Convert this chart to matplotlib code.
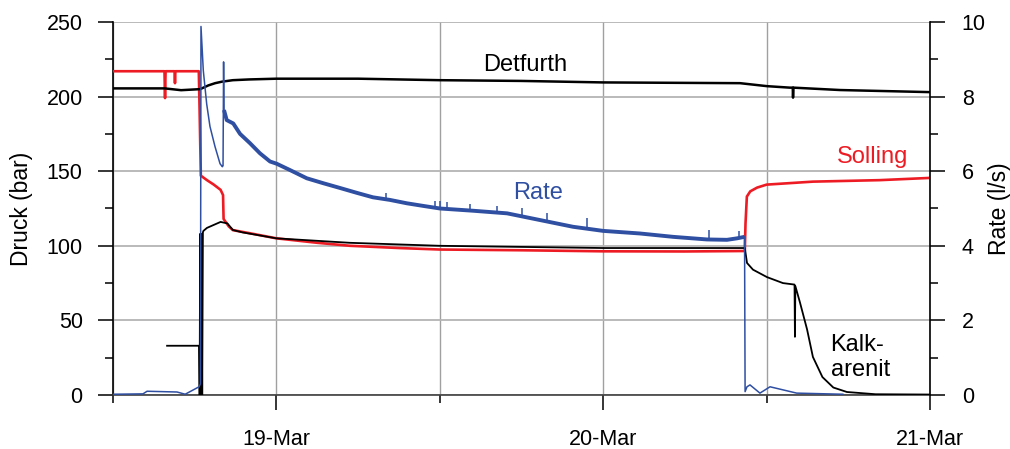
import numpy as np
import pandas as pd
import matplotlib
matplotlib.use("Agg")
import matplotlib.pyplot as plt
import matplotlib.dates as mdates
from matplotlib.ticker import MultipleLocator

plt.rcParams['font.family'] = ['Liberation Sans', 'DejaVu Sans']

# time in hours since 18-Mar 00:00
t0 = pd.Timestamp("2013-03-18 00:00")

# Solling (bar)
sol_t = [12.0, 15.78, 15.82, 15.86, 16.52, 16.55, 16.58, 18.30, 18.36, 18.45, 18.9, 19.4,
         19.9, 20.08, 20.12, 20.5, 20.8, 22.0, 24.0, 27.0, 29.4, 33.0, 36.0, 42.0, 48.0,
         54.0, 58.4, 58.45, 58.55, 58.8, 59.3, 60.0, 63.4, 68.3, 72.0]
sol_v = [217, 217, 199, 217, 217, 209, 217, 217, 190, 147, 144, 141,
         137.5, 134, 118, 113, 110.5, 108.5, 105, 102, 100, 98.5, 97.5, 97, 96.3,
         96.2, 96.5, 115, 133, 136.5, 139, 141, 143, 144, 145.5]

# Detfurth (bar)
det_t = [12.0, 15.8, 17.0, 18.4, 19.0, 19.5, 20.0, 20.8, 22.0, 24.0, 30.0, 36.0,
         42.0, 48.0, 54.0, 58.05, 60.03, 61.7, 61.92, 61.94, 61.97, 65.4, 72.0]
det_v = [205.5, 205.5, 204.3, 205, 207.5, 209, 210, 211, 211.5, 212, 212, 211,
         210.5, 209.5, 209.2, 209, 207, 206, 206, 199.3, 206, 204.4, 203]

# Kalkarenit (bar)
kal_t = [15.97, 18.32, 18.36, 18.40, 18.45, 18.50, 18.55, 18.60, 18.64, 18.9, 19.9,
         20.4, 20.8, 21.5, 24.0, 29.4, 36.0, 48.0, 58.4, 58.56, 59.0, 60.03, 61.2,
         62.05, 62.08, 62.11, 62.45, 62.97, 63.4, 64.1, 64.9, 65.9, 68.0, 72.0]
kal_v = [33, 33, 0, 108, 0, 108, 0, 109, 110, 112, 116,
         115, 110.6, 109, 105, 102, 100, 98.5, 98.5, 88.5, 84, 79, 75,
         74, 39, 73, 62, 44, 25.5, 12, 5, 2, 0.5, 0.3]

# Rate (l/s)
rate_t = [12.0, 14.2, 14.5, 16.7, 17.3, 18.32, 18.42, 18.46, 18.63, 18.88, 19.12, 19.49,
          19.86, 20.03, 20.08, 20.12, 20.15, 20.35, 20.83, 21.33, 22.06, 22.79, 23.53,
          24.02, 25.0, 26.23, 27.42, 28.67, 29.9, 31.09, 32.34, 33.57, 34.77, 36.01,
          38.44, 40.94, 43.36, 45.78, 47.99, 50.7, 53.13, 55.62, 57.09, 57.83, 58.38,
          58.42, 58.56, 58.78, 59.51, 60.25, 62.21, 65.6]
rate_v = [0.02, 0.03, 0.1, 0.08, 0.02, 0.22, 0.3, 9.88, 8.7, 7.8, 7.2, 6.66,
          6.2, 6.12, 6.15, 8.93, 7.64, 7.37, 7.28, 7.0, 6.75, 6.48, 6.26,
          6.2, 6.03, 5.81, 5.68, 5.55, 5.42, 5.3, 5.23, 5.14, 5.07, 5.0,
          4.94, 4.87, 4.69, 4.51, 4.4, 4.33, 4.24, 4.17, 4.16, 4.2, 4.24,
          0.09, 0.22, 0.27, 0.05, 0.22, 0.05, 0.02]

# short spikes on the rate record
spike_t = [32.05, 35.65, 36.01, 36.53, 38.22, 40.2, 42.04, 43.87, 46.81, 55.77, 57.97]
spike_lo = [5.25, 5.02, 5.0, 4.98, 4.95, 4.89, 4.79, 4.66, 4.46, 4.17, 4.2]
spike_hi = [5.41, 5.2, 5.2, 5.18, 5.12, 5.08, 5.0, 4.87, 4.75, 4.42, 4.4]


def to_time(hours):
    return (t0 + pd.to_timedelta(np.asarray(hours, dtype=float), unit="h")).to_numpy()


red = "#ED1C24"
blue = "#2F4FA2"

fig, ax = plt.subplots(figsize=(10.1, 4.49), dpi=100)
fig.subplots_adjust(left=0.1119, right=0.9208, bottom=0.1203, top=0.951)
ax2 = ax.twinx()

ax.plot(to_time(sol_t), sol_v, color=red, lw=1.9, zorder=3)
ax.plot(to_time(det_t), det_v, color="black", lw=1.8, zorder=4)
ax.plot(to_time(kal_t), kal_v, color="black", lw=1.3, zorder=4)

rt = np.array(rate_t)
rv = np.array(rate_v)
ax2.plot(to_time(rt), rv, color=blue, lw=1.1)
pump = (rt >= 20.15) & (rt <= 58.38)
ax2.plot(to_time(rt[pump]), rv[pump], color=blue, lw=2.8, solid_capstyle="butt")
ax2.vlines(to_time(spike_t), spike_lo, spike_hi, color=blue, lw=1.1)

ax.set_xlim(to_time([12.0])[0], to_time([72.0])[0])
ax.set_ylim(0, 250)
ax2.set_ylim(0, 10)

ax.xaxis.set_major_locator(mdates.DayLocator())
ax.xaxis.set_minor_locator(mdates.HourLocator(byhour=[12]))
ax.xaxis.set_major_formatter(mdates.DateFormatter("%d-%b"))
ax.yaxis.set_major_locator(MultipleLocator(50))
ax.yaxis.set_minor_locator(MultipleLocator(25))
ax2.yaxis.set_major_locator(MultipleLocator(2))
ax2.yaxis.set_minor_locator(MultipleLocator(1))

ax.grid(axis="x", which="both", color="#a0a0a0", lw=1.0)
ax.grid(axis="y", which="major", color="#b4b4b4", lw=1.3)
ax.set_axisbelow(True)

for a in (ax, ax2):
    a.tick_params(which="major", direction="out", length=10.8, width=1.1, labelsize=15.5)
    a.tick_params(which="minor", direction="out", length=5.8, width=1.1)
    a.spines["top"].set_visible(False)
ax.tick_params(axis="x", pad=14)
ax.tick_params(axis="y", pad=11)
ax2.tick_params(axis="y", pad=12)
ax.spines["right"].set_visible(False)
ax2.spines["left"].set_visible(False)
ax2.spines["bottom"].set_visible(False)
ax.spines["bottom"].set_color("#404040")
for s in ("left", "bottom"):
    ax.spines[s].set_linewidth(1.2)
ax2.spines["right"].set_linewidth(1.2)

ax.set_ylabel("Druck (bar)", fontsize=16.5)
ax2.set_ylabel("Rate (l/s)", fontsize=16.5)
ax.yaxis.set_label_coords(-0.098, 0.5)
ax2.yaxis.set_label_coords(1.071, 0.5)

ax.text(to_time([42.26])[0], 221, "Detfurth", fontsize=17, color="black", ha="center", va="center")
ax.text(to_time([43.2])[0], 135.4, "Rate", fontsize=17, color=blue, ha="center", va="center")
ax.text(to_time([67.8])[0], 159.5, "Solling", fontsize=17, color=red, ha="center", va="center")
ax.text(to_time([64.7])[0], 25, "Kalk-\narenit", fontsize=17, color="black", ha="left", va="center",
        linespacing=1.2)

plt.savefig("out.png", dpi=100)
